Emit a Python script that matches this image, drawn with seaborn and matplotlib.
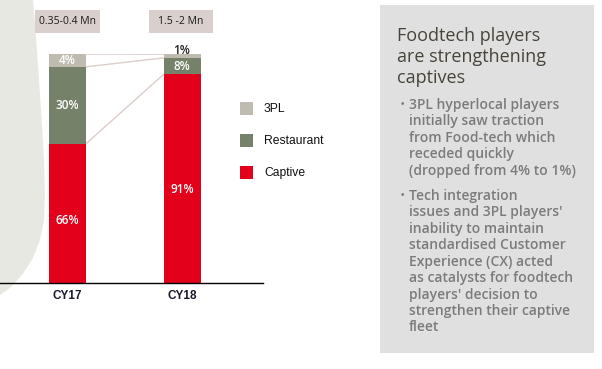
import numpy as np
import pandas as pd
import matplotlib
matplotlib.use("Agg")
import matplotlib.pyplot as plt
from matplotlib.patches import Rectangle, Polygon
import seaborn as sns

sns.set_theme(style="white")
plt.rcParams['font.family'] = ['Liberation Sans', 'DejaVu Sans']

years = ["CY17", "CY18"]
# printed labels
captive_lbl = [66, 91]
restaurant_lbl = [30, 8]
pl3_lbl = [4, 1]
# segment heights as drawn in the picture (not exactly to scale)
captive = [60.8, 91.1]
restaurant = [33.6, 7.2]
pl3 = [5.6, 1.6]
fleet_size = ["0.35-0.4 Mn", "1.5 -2 Mn"]
series = ["3PL", "Restaurant", "Captive"]
palette = {"3PL": "#bfbbb0", "Restaurant": "#76816a", "Captive": "#e2001a"}

title = "Foodtech players\nare strengthening\ncaptives"
bullets = [
    "3PL hyperlocal players\ninitially saw traction\nfrom Food-tech which\nreceded quickly\n(dropped from 4% to 1%)",
    "Tech integration\nissues and 3PL players'\ninability to maintain\nstandardised Customer\nExperience (CX) acted\nas catalysts for foodtech\nplayers' decision to\nstrengthen their captive\nfleet",
]

W, H = 602, 369
fig = plt.figure(figsize=(W / 100, H / 100), dpi=100)

def fx(x):
    return x / W

def fy(y):
    return 1 - y / H

# decorative background shape on the left
shape = [(0, 0), (33, 0), (37, 50), (41, 110), (44, 160), (45, 195), (44, 220),
         (40, 240), (33, 258), (22, 275), (10, 288), (0, 295)]
fig.add_artist(Polygon([(fx(x), fy(y)) for x, y in shape], closed=True,
                       transform=fig.transFigure, facecolor="#e8e8e2",
                       edgecolor="none", zorder=-2))

# right text panel
fig.add_artist(Rectangle((fx(380), fy(353)), fx(594) - fx(380), fy(5) - fy(353),
                         transform=fig.transFigure, facecolor="#e0e0e0",
                         edgecolor="none", zorder=-2))

ax = fig.add_axes([0, fy(283), fx(263), (283 - 54) / H])
ax.patch.set_visible(False)

df = pd.DataFrame({"year": years, "captive": captive,
                   "restaurant": restaurant, "pl3": pl3})
df["mid"] = df["captive"] + df["restaurant"]
df["top"] = df["mid"] + df["pl3"]

bw = 0.323
sns.barplot(data=df, x="year", y="top", color=palette["3PL"], width=bw,
            saturation=1, linewidth=0, ax=ax)
sns.barplot(data=df, x="year", y="mid", color=palette["Restaurant"], width=bw,
            saturation=1, linewidth=0, ax=ax)
sns.barplot(data=df, x="year", y="captive", color=palette["Captive"], width=bw,
            saturation=1, linewidth=0, ax=ax)

# connector lines between bars
for col in ["top", "mid", "captive"]:
    ax.plot([bw / 2, 1 - bw / 2], [df[col][0], df[col][1]],
            color="#dccdca", lw=1, zorder=0.5)

# value labels
lab_font = dict(family=["Open Sans", "DejaVu Sans"], fontsize=8.5, ha="center",
                va="center", fontweight="semibold")
for i in range(2):
    ax.text(i, captive[i] * 0.45, f"{captive_lbl[i]}%", color="white", **lab_font)
    ax.text(i, captive[i] + restaurant[i] / 2, f"{restaurant_lbl[i]}%", color="white", **lab_font)
ax.text(0, df["mid"][0] + pl3[0] / 2, f"{pl3_lbl[0]}%", color="white", **lab_font)
ax.text(1, 101.6, f"{pl3_lbl[1]}%", color="#222222", **lab_font)

ax.set_xlim(-0.5895, 1.707)
ax.set_ylim(0, 100)
ax.set_xlabel("")
ax.set_ylabel("")
ax.set_yticks([])
ax.tick_params(axis="x", length=0, pad=5)
for t in ax.get_xticklabels():
    t.set_fontweight("bold")
    t.set_fontsize(8.5)
    t.set_color("#1a1a2e")
for s in ["top", "right", "left"]:
    ax.spines[s].set_visible(False)
ax.spines["bottom"].set_color("black")
ax.spines["bottom"].set_linewidth(1)

# fleet size boxes
for (x0, x1), txt in zip([(35, 100), (149, 213)], fleet_size):
    fig.add_artist(Rectangle((fx(x0), fy(33)), fx(x1) - fx(x0), fy(10) - fy(33),
                             transform=fig.transFigure, facecolor="#d9cfcc",
                             edgecolor="none"))
    fig.text(fx((x0 + x1) / 2), fy(21.5), txt, ha="center", va="center",
             fontsize=7.5, color="#1a1a1a", family=["Open Sans", "DejaVu Sans"])

# legend
for k, name in enumerate(series):
    y0 = 102 + 32 * k
    fig.add_artist(Rectangle((fx(240), fy(y0 + 13)), fx(13), 13 / H,
                             transform=fig.transFigure,
                             facecolor=palette[name], edgecolor="none"))
    fig.text(fx(264), fy(y0 + 6.5), name, ha="left", va="center",
             fontsize=8.7, color="#111111")

# right panel text
fig.text(fx(397), fy(27), title, ha="left", va="top", fontsize=13,
         color="#47443a", linespacing=1.2, family=["Open Sans", "DejaVu Sans"])
starts = [98, 189]
for y0, b in zip(starts, bullets):
    fig.text(fx(401), fy(y0 + 1), "•", ha="left", va="top", fontsize=7,
             color="#7b7b7b")
    fig.text(fx(409), fy(y0), b, ha="left", va="top", fontsize=10,
             color="#7b7b7b", linespacing=1.22, fontweight="semibold",
             family=["Open Sans", "DejaVu Sans"])

fig.savefig("out.png", dpi=100)
